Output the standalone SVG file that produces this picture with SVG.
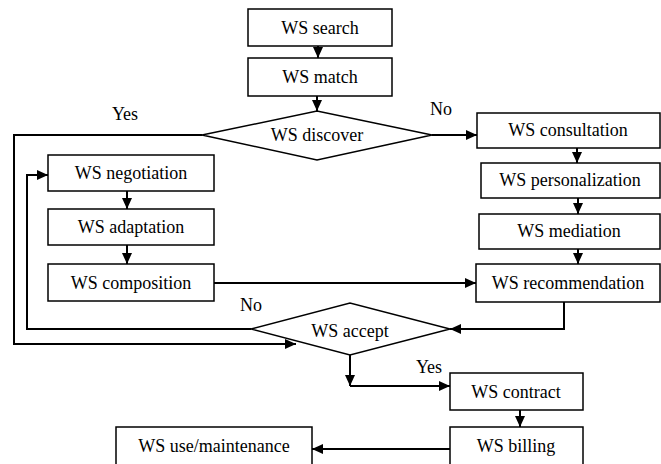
<svg xmlns="http://www.w3.org/2000/svg" width="661" height="464" viewBox="0 0 661 464">
<style>
.box{fill:#fff;stroke:#000;stroke-width:1.5}
.t{font-family:'Liberation Serif','Times New Roman',Tinos,'DejaVu Serif',serif;font-size:18px;fill:#000;text-anchor:middle}
.c{fill:none;stroke:#000;stroke-width:2}
</style>
<defs>
<marker id="ah" markerUnits="userSpaceOnUse" markerWidth="11" markerHeight="10" refX="11" refY="5" orient="auto">
<path d="M0,0 L11,5 L0,10 z" fill="#000"/>
</marker>
</defs>
<rect width="661" height="464" fill="#fff"/>
<g id="connectors">
<path class="c" d="M318,46 V58" marker-end="url(#ah)"/>
<path class="c" d="M317,96 V111" marker-end="url(#ah)"/>
<path class="c" d="M432,135 H477" marker-end="url(#ah)"/>
<path class="c" d="M577,148 V163" marker-end="url(#ah)"/>
<path class="c" d="M578,198 V214" marker-end="url(#ah)"/>
<path class="c" d="M578,249 V264" marker-end="url(#ah)"/>
<path class="c" d="M202,135 H14 V344 H296" marker-end="url(#ah)"/>
<path class="c" d="M251,329 H27 V175 H48" marker-end="url(#ah)"/>
<path class="c" d="M127,191 V209" marker-end="url(#ah)"/>
<path class="c" d="M127,245 V264" marker-end="url(#ah)"/>
<path class="c" d="M214,283 H476" marker-end="url(#ah)"/>
<path class="c" d="M564,302 V329 H450" marker-end="url(#ah)"/>
<path class="c" d="M350,355 V386" marker-end="url(#ah)"/>
<path class="c" d="M350,386 H450" marker-end="url(#ah)"/>
<path class="c" d="M520,410 V427" marker-end="url(#ah)"/>
<path class="c" d="M450,449 H312" marker-end="url(#ah)"/>
</g>
<g id="search"><rect class="box" x="248" y="9" width="144" height="37"/><text class="t" font-family="Liberation Serif, serif" x="320" y="34">WS search</text></g>
<g id="match"><rect class="box" x="248" y="58" width="144" height="38"/><text class="t" font-family="Liberation Serif, serif" x="320" y="83">WS match</text></g>
<g id="discover"><polygon class="box" points="202,135 317,111 432,135 317,160"/><text class="t" font-family="Liberation Serif, serif" x="317" y="141">WS discover</text></g>
<g id="labels" font-family="Liberation Serif, serif">
<text class="t" x="125" y="120">Yes</text>
<text class="t" x="441" y="115">No</text>
<text class="t" x="251" y="311">No</text>
<text class="t" x="429" y="373">Yes</text>
</g>
<g id="consultation"><rect class="box" x="477" y="113" width="183" height="35"/><text class="t" x="568" y="136">WS consultation</text></g>
<g id="personalization"><rect class="box" x="481" y="163" width="179" height="35"/><text class="t" x="570" y="186">WS personalization</text></g>
<g id="mediation"><rect class="box" x="479" y="214" width="181" height="35"/><text class="t" x="569" y="237">WS mediation</text></g>
<g id="recommendation"><rect class="box" x="476" y="264" width="184" height="38"/><text class="t" x="568" y="289">WS recommendation</text></g>
<g id="negotiation"><rect class="box" x="48" y="155" width="166" height="36"/><text class="t" x="131" y="179">WS negotiation</text></g>
<g id="adaptation"><rect class="box" x="48" y="209" width="166" height="36"/><text class="t" x="131" y="233">WS adaptation</text></g>
<g id="composition"><rect class="box" x="48" y="264" width="166" height="37"/><text class="t" x="131" y="289">WS composition</text></g>
<g id="accept"><polygon class="box" points="251,329 350,303 450,329 350,355"/><text class="t" x="350" y="337">WS accept</text></g>
<g id="contract"><rect class="box" x="450" y="373" width="133" height="37"/><text class="t" x="516" y="398">WS contract</text></g>
<g id="billing"><rect class="box" x="450" y="427" width="133" height="40"/><text class="t" x="516" y="452">WS billing</text></g>
<g id="use"><rect class="box" x="116" y="427" width="196" height="40"/><text class="t" x="214" y="452">WS use/maintenance</text></g>
</svg>
